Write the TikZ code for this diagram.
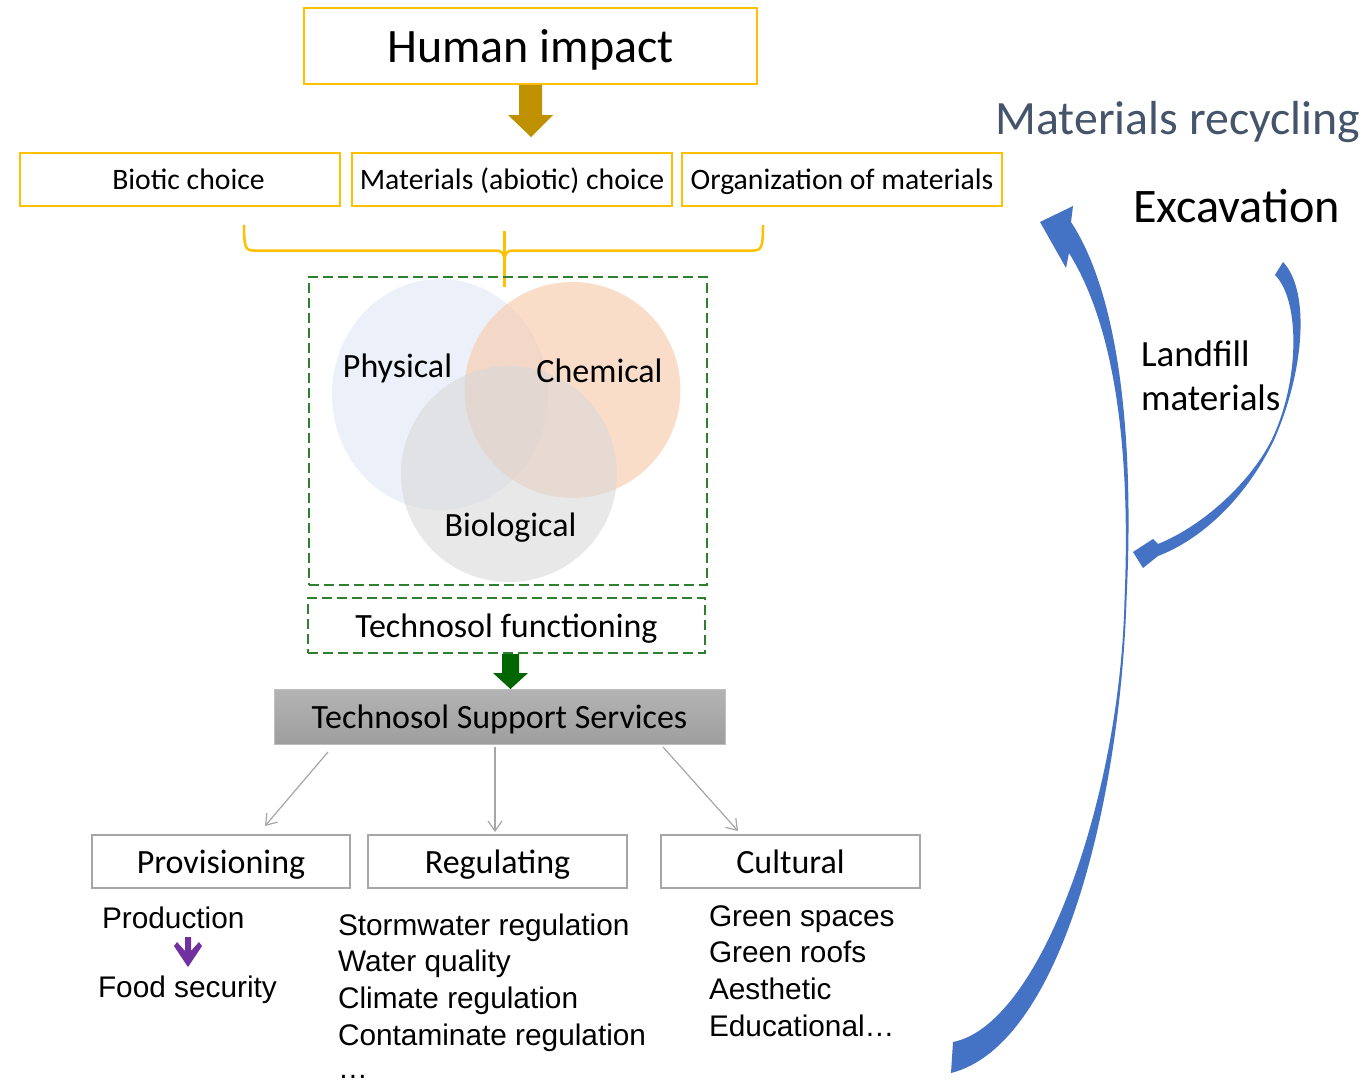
\documentclass[tikz,border=0pt]{standalone}
\usepackage{fontspec}
\setmainfont{Carlito}
\newfontfamily\arialfont{Liberation Sans}
\usetikzlibrary{arrows.meta,shapes.geometric}
\definecolor{yel}{HTML}{FFC000}
\definecolor{gold}{HTML}{BF9000}
\definecolor{dgreen}{HTML}{2F7F2F}
\definecolor{agreen}{HTML}{006600}
\definecolor{physc}{HTML}{DAE3F3}
\definecolor{chemc}{HTML}{F8CBAD}
\definecolor{bioc}{HTML}{D9D9D9}
\definecolor{greyline}{HTML}{A6A6A6}
\definecolor{arrowblue}{HTML}{4472C4}
\definecolor{slate}{HTML}{44546A}
\definecolor{purp}{HTML}{7030A0}
\newcommand\fsz[1]{\fontsize{#1}{#1}\selectfont}
\begin{document}
\begin{tikzpicture}[x=1pt,y=-1pt,
  every node/.style={inner sep=0pt, outer sep=0pt},
  boxtxt/.style={font=\fsz{#1}, text height=0.952*#1, text depth=0.269*#1},
  topbox/.style={draw=yel, line width=1.3pt, minimum width=320pt, minimum height=53pt},
  dashbox/.style={draw=dgreen, line width=1.3pt, dash pattern=on 10pt off 5pt},
  servbox/.style={draw=greyline, line width=1.4pt, minimum height=53pt, boxtxt=34},
  thinarrow/.style={draw=greyline, line width=1.2pt, -{Straight Barb[length=10pt,width=14pt]}},
  listtxt/.style={font=\arialfont\fsz{29.8}, anchor=base west}]
\useasboundingbox (0,0) rectangle (1371,1081);
\fill[white] (0,0) rectangle (1371,1081);

% Human impact
\node[draw=yel, line width=2pt, minimum width=453pt, minimum height=76pt, boxtxt=48] (human) at (530.5,46) {Human impact};
\fill[gold] (519,85) -- (542,85) -- (542,115) -- (553,115) -- (531,137) -- (508,115) -- (519,115) -- cycle;

% top boxes
\node[topbox] (biotic) at (180,179.5) {};
\node[boxtxt=29.7] (biotict) at (188.5,179.5) {Biotic choice};
\node[topbox, boxtxt=29.7] (mat) at (512,179.5) {Materials (abiotic) choice};
\node[topbox, boxtxt=29.7] (org) at (842,179.5) {Organization of materials};

% brace
\draw[yel, line width=2.5pt]
  (244,225) .. controls (244,245) and (245,250.5) .. (253,250.5) -- (495,250.5)
  .. controls (502,250.5) and (504.5,253) .. (504.5,262);
\draw[yel, line width=2.5pt]
  (763,225) .. controls (763,245) and (762,250.5) .. (754,250.5) -- (514,250.5)
  .. controls (507,250.5) and (504.5,253) .. (504.5,262);
\draw[yel, line width=2.2pt] (504.5,230.5) -- (504.5,287);

% Venn
\node[dashbox, minimum width=398pt, minimum height=308pt] (venn) at (508,431) {};
\node[ellipse, fill=physc, fill opacity=0.5, minimum width=216pt, minimum height=231pt] (physc) at (440,394.5) {};
\node[circle, fill=chemc, fill opacity=0.65, minimum size=216pt] (chemc) at (572.5,390) {};
\node[circle, fill=bioc, fill opacity=0.6, minimum size=216pt] (bioc) at (509,474) {};
\node[font=\fsz{34}, anchor=base] (phys) at (397.5,377) {Physical};
\node[font=\fsz{34}, anchor=base] (chem) at (599.5,382) {Chemical};
\node[font=\fsz{34}, anchor=base] (bio) at (510.5,536) {Biological};

% Technosol functioning
\node[dashbox, minimum width=397pt, minimum height=55pt, boxtxt=34] (tf) at (506.5,625.5) {Technosol functioning};
\fill[agreen] (502,654) -- (519,654) -- (519,673) -- (528,673) -- (510.5,689) -- (493,673) -- (502,673) -- cycle;

% Support services
\node[top color={rgb,255:red,180;green,180;blue,180}, bottom color={rgb,255:red,158;green,158;blue,158},
  draw={rgb,255:red,190;green,190;blue,190}, line width=1pt,
  minimum width=451pt, minimum height=55pt, boxtxt=34] (tss) at (499.5,716.5) {Technosol Support Services};

% service boxes
\node[servbox, minimum width=258pt] (prov) at (221,861.5) {Provisioning};
\node[servbox, minimum width=259pt] (reg) at (497.5,861.5) {Regulating};
\node[servbox, minimum width=259pt] (cult) at (790.5,861.5) {Cultural};

\coordinate (a1s) at (328,752); \coordinate (a1e) at (265,826);
\coordinate (a2s) at (495,747); \coordinate (a2e) at (495,832);
\coordinate (a3s) at (663,747); \coordinate (a3e) at (738,831);
\draw[thinarrow] (a1s) -- (a1e);
\draw[thinarrow] (a2s) -- (a2e);
\draw[thinarrow] (a3s) -- (a3e);

% provisioning list
\node[listtxt] (prod) at (102,928) {Production};
\node[listtxt] (food) at (98,997) {Food security};
\fill[purp] (185,937) -- (191,937) -- (191,951) -- (199,942) -- (202,946) -- (188,967) -- (174,946) -- (177,942) -- (185,951) -- cycle;

% regulating list
\node[listtxt] (r1) at (338,935) {Stormwater regulation};
\node[listtxt] (r2) at (338,971) {Water quality};
\node[listtxt] (r3) at (338,1008) {Climate regulation};
\node[listtxt] (r4) at (338,1045) {Contaminate regulation};
\node[listtxt] (r5) at (338,1078) {\dots};

% cultural list
\node[listtxt] (c1) at (709,926) {Green spaces};
\node[listtxt] (c2) at (709,962) {Green roofs};
\node[listtxt] (c3) at (709,999) {Aesthetic};
\node[listtxt] (c4) at (709,1036) {Educational\dots};

% right side texts
\node[font=\fsz{47.8}, text=slate, anchor=base east] (mr) at (1360,134) {Materials recycling};
\node[font=\fsz{48.2}, anchor=base west] (exc) at (1133,222) {Excavation};
\node[font=\fsz{37}, anchor=base west] (lf1) at (1141,366) {Landfill};
\node[font=\fsz{37}, anchor=base west] (lf2) at (1141,410) {materials};

% big curved arrow
\fill[arrowblue] (953,1042) .. controls (1040,1025) and (1120,800) .. (1124.5,600)
  .. controls (1130,470) and (1120,335) .. (1069,253)
  -- (1066,268) -- (1040,222) -- (1073,206) -- (1071,222)
  .. controls (1122,300) and (1134,450) .. (1126.5,600)
  .. controls (1120,800) and (1062,1045) .. (951,1073) -- cycle;

% small curved arrow
\fill[arrowblue] (1283,262) .. controls (1310,290) and (1305,370) .. (1274,440)
  .. controls (1245,500) and (1200,540) .. (1158,556)
  -- (1143,568) -- (1133,552) -- (1153,539) -- (1158,544)
  .. controls (1205,525) and (1252,480) .. (1272,439)
  .. controls (1300,380) and (1300,300) .. (1275,275) -- cycle;
\end{tikzpicture}
\end{document}
